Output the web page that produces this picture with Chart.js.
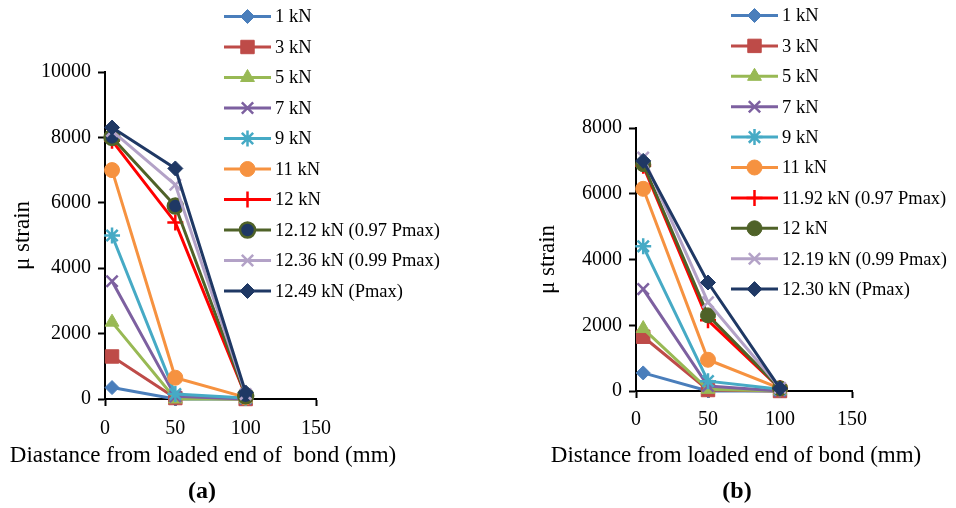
<!DOCTYPE html>
<html>
<head>
<meta charset="utf-8">
<script src="https://cdn.jsdelivr.net/npm/chart.js@4.4.0/dist/chart.umd.min.js"></script>
<style>
  body { margin: 0; background: #fff; }
  .panel { position: absolute; top: 0; width: 478px; height: 508px; }
  .tag { position: absolute; top: 477px; font: bold 24px "Liberation Serif", "Times New Roman", serif; transform: translateX(-50%); color: #000; }
</style>
</head>
<body>
<div class="panel" style="left:0"><canvas id="chartA" width="478" height="508"></canvas></div>
<div class="panel" style="left:478px"><canvas id="chartB" width="478" height="508"></canvas></div>
<div class="tag" style="left:202px">(a)</div>
<div class="tag" style="left:737px">(b)</div>
<script>
// distance from loaded end (mm)
const distances = [5, 50, 100];

// panel (a)
const loadsA = ['1 kN', '3 kN', '5 kN', '7 kN', '9 kN', '11 kN', '12 kN',
    '12.12 kN (0.97 Pmax)', '12.36 kN (0.99 Pmax)', '12.49 kN (Pmax)'];
const strainA = [
    [350, 0, 0],
    [1300, 30, 0],
    [2350, 0, 0],
    [3600, 80, 0],
    [5000, 150, 30],
    [7000, 650, 50],
    [7900, 5400, 100],
    [8000, 5900, 100],
    [8200, 6550, 150],
    [8300, 7050, 200]
];
const yTicksA = [0, 2000, 4000, 6000, 8000, 10000];

// panel (b)
const loadsB = ['1 kN', '3 kN', '5 kN', '7 kN', '9 kN', '11 kN', '11.92 kN (0.97 Pmax)',
    '12 kN', '12.19 kN (0.99 Pmax)', '12.30 kN (Pmax)'];
const strainB = [
    [550, 0, 0],
    [1650, 30, 0],
    [1900, 50, 0],
    [3100, 150, 0],
    [4400, 300, 50],
    [6150, 950, 80],
    [6850, 2150, 80],
    [6900, 2300, 80],
    [7100, 2700, 100],
    [7000, 3300, 80]
];
const yTicksB = [0, 2000, 4000, 6000, 8000];
const xTicks = [0, 50, 100, 150];

const serif = '"Liberation Serif", "Times New Roman", serif';

// marker styles, excel 2010 line palette
const stylesA = [
    { line: '#4A7EBB', fill: '#4A7EBB', edge: '#4A7EBB', shape: 'rectRot', r: 7, bw: 1 },
    { line: '#BE4B48', fill: '#BE4B48', edge: '#BE4B48', shape: 'rect', r: 9.5, bw: 1 },
    { line: '#98B954', fill: '#98B954', edge: '#98B954', shape: 'triangle', r: 8, bw: 1 },
    { line: '#7D60A0', fill: '#7D60A0', edge: '#7D60A0', shape: 'crossRot', r: 8, bw: 2.5 },
    { line: '#46AAC5', fill: '#46AAC5', edge: '#46AAC5', shape: 'star', r: 8, bw: 2.5 },
    { line: '#F69240', fill: '#F69240', edge: '#F69240', shape: 'circle', r: 7.5, bw: 1 },
    { line: '#FF0000', fill: '#FF0000', edge: '#FF0000', shape: 'cross', r: 8, bw: 2.5 },
    { line: '#4F6228', fill: '#1F3864', edge: '#4F6228', shape: 'circle', r: 7.5, bw: 2.5 },
    { line: '#B3A2C7', fill: '#B3A2C7', edge: '#B3A2C7', shape: 'crossRot', r: 8, bw: 2.5 },
    { line: '#1F3864', fill: '#1F3864', edge: '#1F3864', shape: 'rectRot', r: 7.5, bw: 1 }
];
const stylesB = stylesA.slice(0, 6).concat([
    { line: '#FF0000', fill: '#FF0000', edge: '#FF0000', shape: 'cross', r: 8, bw: 2.5 },
    { line: '#4F6228', fill: '#4F6228', edge: '#4F6228', shape: 'circle', r: 7.5, bw: 1 },
    { line: '#B3A2C7', fill: '#B3A2C7', edge: '#B3A2C7', shape: 'crossRot', r: 8, bw: 2.5 },
    { line: '#1F3864', fill: '#1F3864', edge: '#1F3864', shape: 'rectRot', r: 7.5, bw: 1 }
]);

function buildSets(labels, values, styles) {
    return labels.map((lab, i) => ({
        label: lab,
        data: distances.map((d, j) => ({ x: d, y: values[i][j] })),
        borderColor: styles[i].line,
        backgroundColor: styles[i].fill,
        pointBackgroundColor: styles[i].fill,
        pointBorderColor: styles[i].edge,
        pointStyle: styles[i].shape,
        pointRadius: styles[i].r,
        pointBorderWidth: styles[i].bw,
        borderWidth: 3,
        tension: 0,
        clip: false,
        order: labels.length - i   // later series on top, like excel
    }));
}

// legend + x title drawn by hand so they can overflow the plot like the original
const sideLegend = {
    id: 'sideLegend',
    afterDraw(chart, args, opts) {
        const ctx = chart.ctx;
        ctx.save();
        chart.data.datasets.forEach((ds, i) => {
            const y = opts.y0 + i * opts.step;
            ctx.strokeStyle = ds.borderColor;
            ctx.lineWidth = 3;
            ctx.beginPath();
            ctx.moveTo(opts.x0, y);
            ctx.lineTo(opts.x0 + 47, y);
            ctx.stroke();
            ctx.fillStyle = ds.pointBackgroundColor;
            ctx.strokeStyle = ds.pointBorderColor;
            ctx.lineWidth = ds.pointBorderWidth;
            Chart.helpers.drawPoint(ctx, {
                pointStyle: ds.pointStyle,
                radius: ds.pointRadius,
                borderWidth: ds.pointBorderWidth,
                rotation: 0
            }, opts.x0 + 23.5, y);
            ctx.fillStyle = '#000';
            ctx.font = '18.5px ' + serif;
            ctx.textBaseline = 'middle';
            ctx.textAlign = 'left';
            ctx.fillText(ds.label, opts.x0 + 51, y + 1);
        });
        // axis title under the x axis
        ctx.font = '23px ' + serif;
        ctx.textAlign = 'center';
        ctx.textBaseline = 'middle';
        ctx.fillStyle = '#000';
        ctx.fillText(opts.xTitle, opts.xTitleX, opts.xTitleY);
        ctx.restore();
    }
};

function makeChart(id, labels, values, styles, yTicks, box) {
    const ctx = document.getElementById(id).getContext('2d');
    return new Chart(ctx, {
        type: 'line',
        data: { datasets: buildSets(labels, values, styles) },
        options: {
            responsive: false,
            animation: false,
            layout: { padding: { left: box.padLeft, top: box.top, right: 478 - box.right, bottom: 0 } },
            plugins: {
                legend: { display: false },
                tooltip: { enabled: false },
                sideLegend: {
                    x0: box.legX, y0: box.legY, step: box.legStep,
                    xTitle: box.xTitle, xTitleX: box.titleX, xTitleY: 456
                }
            },
            scales: {
                x: {
                    type: 'linear',
                    min: xTicks[0],
                    max: xTicks[xTicks.length - 1],
                    afterBuildTicks: s => { s.ticks = xTicks.map(v => ({ value: v })); },
                    ticks: { color: '#000', font: { family: serif, size: 20 }, padding: box.xPad, callback: v => String(v) },
                    grid: { drawOnChartArea: false, tickLength: 7, tickColor: '#000', tickWidth: 2 },
                    border: { color: '#000', width: 2 },
                    afterFit: s => { s.height = 508 - box.bottom; }
                },
                y: {
                    min: yTicks[0],
                    max: yTicks[yTicks.length - 1],
                    afterBuildTicks: s => { s.ticks = yTicks.map(v => ({ value: v })); },
                    ticks: { color: '#000', font: { family: serif, size: 20 }, padding: 7, callback: v => String(v) },
                    grid: { drawOnChartArea: false, tickLength: 7, tickColor: '#000', tickWidth: 2 },
                    border: { color: '#000', width: 2 },
                    title: {
                        display: true,
                        text: 'μ strain',
                        color: '#000',
                        font: { family: serif, size: 23 },
                        padding: { top: 9, bottom: 9 }
                    },
                    afterFit: s => { s.width = box.left - box.padLeft; }
                }
            }
        },
        plugins: [sideLegend]
    });
}

makeChart('chartA', loadsA, strainA, stylesA, yTicksA, {
    padLeft: 0, left: 105, right: 316, top: 72, bottom: 399, xPad: 11,
    legX: 224, legY: 16.5, legStep: 30.5, titleX: 203,
    xTitle: 'Diastance from loaded end of  bond (mm)'
});
makeChart('chartB', loadsB, strainB, stylesB, yTicksB, {
    padLeft: 47, left: 158, right: 374, top: 128, bottom: 391, xPad: 10,
    legX: 253, legY: 15.5, legStep: 30.4, titleX: 258,
    xTitle: 'Distance from loaded end of bond (mm)'
});
</script>
</body>
</html>
